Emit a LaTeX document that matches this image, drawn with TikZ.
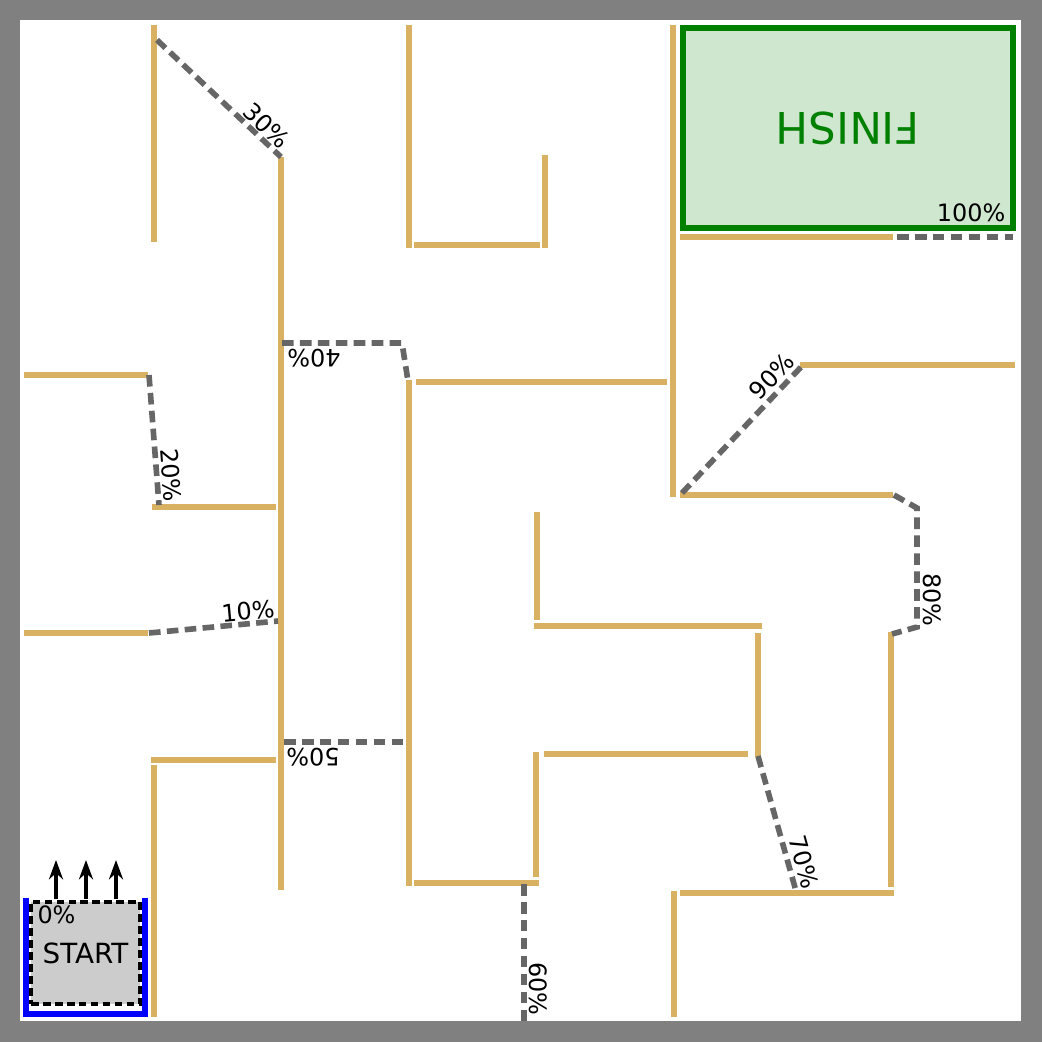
\documentclass[tikz,border=0pt]{standalone}
\usepackage{fontspec}
\setmainfont{DejaVu Sans}
\usetikzlibrary{arrows.meta}
\definecolor{wallx}{HTML}{D8B262}
\definecolor{pathx}{HTML}{666666}
\definecolor{goalx}{HTML}{008000}
\definecolor{goalbg}{HTML}{CFE6CF}
\definecolor{startbg}{HTML}{CCCCCC}
\tikzset{
  wl/.style={wallx,line width=1.7pt},
  dp/.style={pathx,line width=1.6pt,dash pattern=on 3.3pt off 1.8pt},
  pc/.style={font=\fontsize{6.8}{8}\selectfont,inner sep=0pt},
  ar/.style={-{Stealth[length=5.5pt,width=4pt]},line width=1pt},
  sbox/.style={draw,dash pattern=on 2.2pt off 1.2pt,line width=1.1pt,fill=startbg,minimum width=1.03cm,minimum height=1.02cm,font=\fontsize{7.9}{9}\selectfont},
  fbox/.style={draw=goalx,line width=1.7pt,fill=goalbg,minimum width=3.3cm,minimum height=2cm,text=goalx,font=\fontsize{12.4}{14}\selectfont}
}
\begin{document}
\begin{tikzpicture}[x=0.01cm,y=-0.01cm]
\fill[gray] (0,0) rectangle (1042,1042);
\fill[white] (20,20) rectangle (1021,1021);
\foreach \a/\b/\c/\d in {154/25/154/242,281/157/281/890,409/25/409/248,414/245/540/245,545/155/545/248,
  673/25/673/497,680/237/893/237,24/375/148/375,152/507/276/507,409/380/409/886,416/382/667/382,
  800/365/1015/365,680/495/893/495,24/633/148/633,151/760/276/760,154/765/154/1017,537/512/537/620,
  534/626/762/626,758/633/758/757,544/754/748/754,536/752/536/877,414/883/539/883,891/632/891/887,
  680/893/894/893,674/891/674/1017}{\draw[wl] (\a,\b) -- (\c,\d);}
\node[fbox,rotate=180] (finish) at (848,128) {FINISH};
\node[sbox] (start) at (85.5,953) {START};
\draw[blue,line width=1.7pt] (26,898) |- (145,1014) -- (145,898);
\foreach \x in {56,86,116}{\draw[ar] (\x,899) -- (\x,860);}
\draw[dp] (149,633) -- (278,621);
\draw[dp] (149,375) -- (159,505);
\draw[dp] (157,40) -- (281,157);
\draw[dp] (282,343) -- (402,343) -- (408,381);
\draw[dp] (284,742) -- (407,742);
\draw[dp] (524,884) -- (524,1021);
\draw[dp] (758,756) -- (796,891);
\draw[dp] (894,495) -- (917,508) -- (917,627) -- (892,634);
\draw[dp] (682,493) -- (802,366);
\draw[dp] (897,237) -- (1013,237);
\foreach \n/\x/\y/\r in {10/248/611/5.3,20/171/475/-85.5,30/267/126/-43.6,40/314/358/180,50/313/757/180,
  60/538/989/-90,70/804/862/-74.2,80/932/600/-90,90/772/376/46.4}{\node[pc,rotate=\r] (p\n) at (\x,\y) {\n\%};}
\node[pc,anchor=south east] (p100) at (1006,223) {100\%};
\node[pc] (p0) at (56.5,915) {0\%};
\end{tikzpicture}
\end{document}
